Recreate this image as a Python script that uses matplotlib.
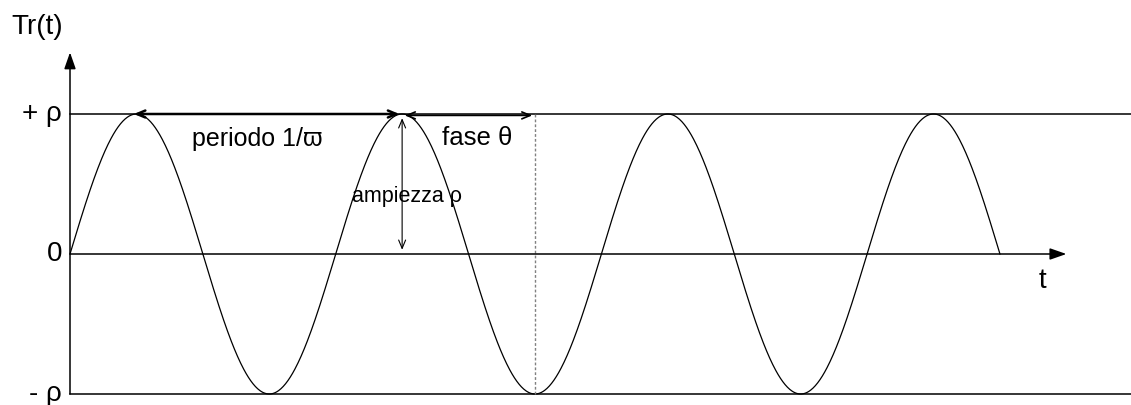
import numpy as np
import matplotlib
matplotlib.use("Agg")
import matplotlib.pyplot as plt

plt.rcParams["font.family"] = ["Liberation Sans", "DejaVu Sans"]

# sinusoid parameters (t in units of the period, y in units of rho)
amplitude = 1.0
period = 1.0
n_periods = 3.5
phase_start = 1.25   # peak where the phase arrow starts
phase_end = 1.75     # trough marked by the dashed line

y_levels = [amplitude, 0.0, -amplitude]
y_labels = ["+ \u03c1", "0", "- \u03c1"]

t = np.linspace(0, n_periods * period, 1200)
tr = amplitude * np.sin(2 * np.pi * t / period)

fig = plt.figure(figsize=(11.31, 4.05), dpi=100)
ax = fig.add_axes([0, 0, 1, 1])
ax.set_xlim(-70 / 265.7, (1131 - 70) / 265.7)
ax.set_ylim(-151 / 140, 254 / 140)
ax.axis("off")

# curve
ax.plot(t, tr, color="black", lw=0.9)

# horizontal reference lines at +rho and -rho
x_right = ax.get_xlim()[1]
ax.plot([0, x_right], [amplitude, amplitude], color="black", lw=1.1)
ax.plot([0, x_right], [-amplitude, -amplitude], color="black", lw=1.1)

# axes with filled arrows
ax.annotate("", xy=(3.75, 0), xytext=(0, 0),
            arrowprops=dict(arrowstyle="-|>,head_length=1.0,head_width=0.35",
                            color="black", lw=1.1, shrinkA=0, shrinkB=0))
ax.annotate("", xy=(0, 1.44), xytext=(0, -amplitude),
            arrowprops=dict(arrowstyle="-|>,head_length=1.0,head_width=0.35",
                            color="black", lw=1.1, shrinkA=0, shrinkB=0))

# period arrow (peak to peak)
ax.annotate("", xy=(0.24, amplitude), xytext=(1.24, amplitude),
            arrowprops=dict(arrowstyle="<->,head_length=0.6,head_width=0.25",
                            color="black", lw=1.8, shrinkA=0, shrinkB=0))
# phase arrow
ax.annotate("", xy=(1.26, 0.99), xytext=(phase_end - 0.01, 0.99),
            arrowprops=dict(arrowstyle="<->,head_length=0.6,head_width=0.25",
                            color="black", lw=1.2, shrinkA=0, shrinkB=0))
# amplitude arrow
ax.annotate("", xy=(phase_start, 0.97), xytext=(phase_start, 0.03),
            arrowprops=dict(arrowstyle="<->,head_length=0.6,head_width=0.25",
                            color="black", lw=0.8, shrinkA=0, shrinkB=0))

# dashed line at the trough
ax.plot([phase_end, phase_end], [-amplitude, amplitude], color="gray",
        lw=1.0, ls=(0, (2, 1.5)))

# labels
for yv, lab in zip(y_levels, y_labels):
    ax.text(-0.03, yv, lab, ha="right", va="center", fontsize=20)
ax.text(-0.124, 1.62, "Tr(t)", ha="center", va="center", fontsize=20)
ax.text(3.66, -0.19, "t", ha="center", va="center", fontsize=20)
ax.text(0.459, 0.82, "periodo 1/\u03d6", ha="left", va="center", fontsize=18)
ax.text(1.40, 0.83, "fase \u03b8", ha="left", va="center", fontsize=18.5)
ax.text(1.06, 0.41, "ampiezza \u03c1", ha="left", va="center", fontsize=15.5)

fig.savefig("out.png", dpi=100)
